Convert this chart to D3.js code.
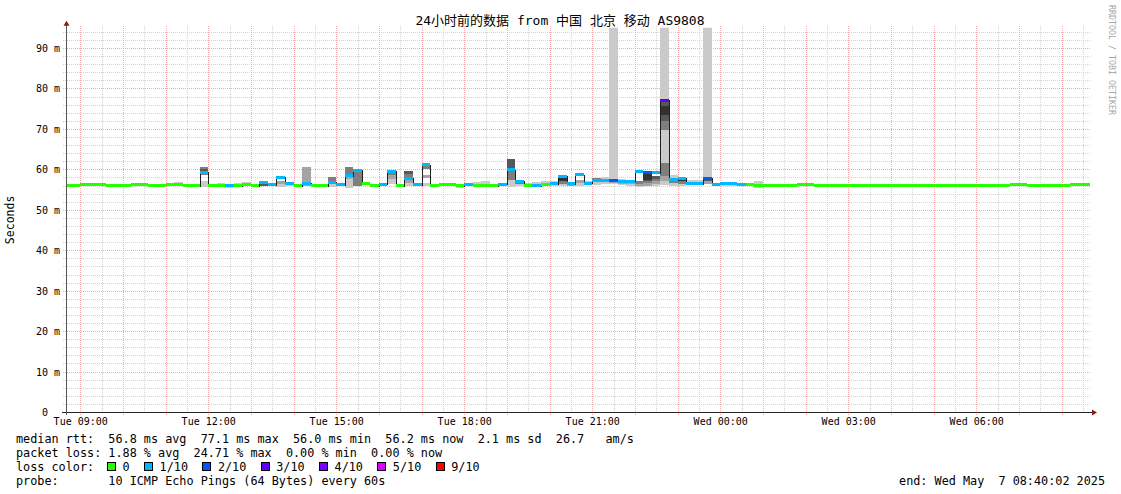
<!DOCTYPE html>
<html><head><meta charset="utf-8">
<script src="https://cdn.jsdelivr.net/npm/d3@7"></script>
<style>
html,body{margin:0;padding:0;background:#fff;}
svg{display:block;}
text{font-family:"DejaVu Sans Mono","Noto Sans CJK SC",monospace;white-space:pre;fill:#000;}
</style></head><body>
<svg id="c" width="1121" height="494"></svg>
<script>
// ---------------- data ----------------
const title = "24小时前的数据 from 中国 北京 移动 AS9808";
const yAxisTitle = "Seconds";
const watermark = "RRDTOOL / TOBI OETIKER";
const startTime = new Date(2025, 4, 6, 8, 40, 2);
const endTime = new Date(2025, 4, 7, 8, 40, 2);
const binStart = new Date(2025, 4, 6, 8, 36, 0);
const binMinutes = 12;

// median RTT per 12-minute bin (ms)
const median = [
  56.1,56.1,56.2,56.3,56.2,56.1,56.1,56.1,56.2,56.2,56.1,56.1,56.2,
  56.2,56.0,56.0,59.3,56.0,56.1,56.0,56.0,
  56.3,56.0,56.7,56.2,58.1,56.5,56.0,56.6,56.1,56.0,
  56.8,56.2,58.4,59.8,56.4,56.0,56.3,59.5,56.0,57.8,
  56.2,61.2,56.1,56.3,56.2,56.0,56.3,56.0,56.0,56.0,
  56.3,59.9,57.0,56.0,56.0,56.3,56.4,58.3,56.4,58.7,
  56.6,57.2,57.3,57.3,57.0,57.1,59.4,59.1,59.2,77.1,
  57.4,57.8,56.5,56.5,57.8,56.3,56.5,56.6,56.3,56.2,
  56.0,56.1,56.1,56.0,56.1,56.2,56.2,56.1,56.1,56.0,
  56.0,56.1,56.1,56.0,56.0,56.1,56.0,56.1,56.1,56.0,
  56.0,56.1,56.0,56.1,56.1,56.0,56.0,56.0,56.1,56.1,
  56.2,56.2,56.1,56.1,56.0,56.1,56.1,56.2,56.2,56.2
];
// loss per bin (pings out of 10)
const loss = [
  0,0,0,0,0,0,0,0,0,0,0,0,0,
  0,0,0,1,0,0,1,0,
  0,0,1,1,1,1,0,1,0,0,
  1,1,1,1,0,0,1,1,0,1,
  1,1,0,0,0,0,1,0,0,0,
  1,1,1,0,1,0,1,1,1,1,
  1,1,1,2,1,1,1,2,1,3,
  1,1,1,1,2,1,1,1,1,0,
  0,0,0,0,0,0,0,0,0,0,
  0,0,0,0,0,0,0,0,0,0,
  0,0,0,0,0,0,0,0,0,0,
  0,0,0,0,0,0,0,0,0,0
];
// smoke bands: [bin, low ms, high ms, shade level 1..5]
const smoke = [
  [13,55.9,56.8,1],[14,56.0,56.5,1],
  [16,55.7,57.0,1],[16,58.6,59.3,3],[16,59.3,60.0,4],[16,60.0,60.6,3],
  [17,56.0,56.5,1],[18,56.0,56.6,1],[19,55.4,56.5,1],[20,55.8,56.6,1],[21,56.0,56.8,1],
  [23,55.8,57.0,1],[23,56.0,56.6,4],[24,55.8,56.4,1],
  [25,55.7,56.4,1],[25,56.4,57.0,2],[26,55.8,56.7,1],[28,56.0,60.6,2],
  [31,55.7,57.0,1],[31,57.0,58.2,3],[32,55.8,56.4,1],
  [33,55.5,57.5,1],[33,57.5,58.6,2],[33,58.6,60.6,3],[34,56.0,60.1,3],
  [37,55.9,56.5,1],
  [38,56.5,57.6,1],[38,57.6,58.6,2],[38,58.6,59.3,3],
  [40,56.0,56.6,1],[40,56.6,57.6,2],[40,57.6,58.8,3],[40,58.8,59.6,4],
  [42,55.8,56.6,1],[42,57.9,58.6,2],[42,60.0,60.8,3],
  [44,55.9,56.7,1],[45,55.8,56.5,1],[46,55.4,56.5,1],[47,55.8,56.6,1],
  [48,55.9,56.8,1],[49,56.0,57.1,1],[51,55.9,56.6,1],
  [52,55.7,57.4,1],[52,57.4,59.6,3],[52,60.3,62.6,4],
  [53,55.9,56.3,1],[53,56.3,56.9,3],[54,56.0,56.6,1],[55,56.0,56.9,1],
  [56,56.0,57.1,1],[57,56.0,57.1,1],
  [58,55.9,56.4,1],[58,56.4,57.0,3],[58,57.0,58.0,5],
  [59,55.8,56.3,2],[60,55.9,56.6,1],[60,56.6,57.4,2],[61,56.2,57.2,1],
  [62,56.2,57.0,1],[62,57.4,57.8,3],[63,56.3,58.2,1],
  [64,56.5,120,1],[64,56.6,57.2,2],
  [65,56.1,57.6,1],[65,56.3,56.8,2],[66,56.0,57.2,1],[66,56.3,56.9,2],
  [67,55.6,56.0,1],[67,56.0,56.5,2],[67,56.5,57.2,3],
  [68,56.0,56.6,2],[68,56.6,57.0,3],[68,57.0,57.4,4],[68,57.4,58.8,5],
  [69,56.0,56.3,1],[69,56.3,57.0,2],[69,57.0,57.6,3],[69,57.6,58.3,4],
  [70,56.2,57.0,1],[70,57.0,58.3,2],[70,58.3,61.6,3],[70,61.6,69.8,1],
  [70,69.8,71.9,3],[70,71.9,73.5,4],[70,73.5,75.7,5],[70,75.7,76.7,4],[70,77.5,120,1],
  [71,56.0,56.6,1],[71,56.6,57.0,3],[71,57.6,58.6,1],
  [72,56.0,56.5,1],[72,56.5,57.0,3],[72,57.0,57.5,5],
  [73,56.5,57.3,1],[74,56.5,57.3,1],
  [75,56.3,57.0,2],[75,57.0,57.5,4],[75,58.2,120,1],
  [76,55.9,56.4,1],[77,56.0,56.6,1],[78,56.0,56.5,1],[79,56.0,56.5,1],[81,55.5,57.0,1]
];
const smokeShades = ["#cacaca","#a4a4a4","#7e7e7e","#585858","#323232"];

const lossLevels = [0,1,2,3,4,5,9];
const lossLabels = ["0","1/10","2/10","3/10","4/10","5/10","9/10"];
const lossColors = ["#26ff00","#00b8ff","#0059ff","#5e00ff","#7e00ff","#dd00ff","#ff0000"];

const yTicks = [0,10,20,30,40,50,60,70,80,90];
const yTickLabels = ["0  ","10 m","20 m","30 m","40 m","50 m","60 m","70 m","80 m","90 m"];
const xTicks = [
  new Date(2025,4,6,9), new Date(2025,4,6,12), new Date(2025,4,6,15), new Date(2025,4,6,18),
  new Date(2025,4,6,21), new Date(2025,4,7,0), new Date(2025,4,7,3), new Date(2025,4,7,6)
];
const xTickLabels = ["Tue 09:00","Tue 12:00","Tue 15:00","Tue 18:00","Tue 21:00","Wed 00:00","Wed 03:00","Wed 06:00"];

const legendRtt = "median rtt:  56.8 ms avg  77.1 ms max  56.0 ms min  56.2 ms now  2.1 ms sd  26.7   am/s";
const legendLoss = "packet loss: 1.88 % avg  24.71 % max  0.00 % min  0.00 % now";
const legendLossTitle = "loss color:";
const legendProbe = "probe:       10 ICMP Echo Pings (64 Bytes) every 60s";
const legendEnd = "end: Wed May  7 08:40:02 2025";

// ---------------- drawing ----------------
const svg = d3.select("#c");
const L = 66, R = 1090, B = 412;
const x = d3.scaleTime().domain([startTime, endTime]).range([L, R]);
const y = d3.scaleLinear().domain([0, 95]).range([B, B - 95 * 4.044]);
const T = y(95);
const cx = v => Math.round(v) + 0.5;

// grid
const gGrid = svg.append("g").attr("shape-rendering", "crispEdges");
const minorH = d3.range(2, 95, 2).filter(v => v % 10 !== 0);
const majorH = d3.range(10, 95, 10);
const minorCol = "#d2d2d2", majorCol = "#f4a9a9";
gGrid.selectAll(".mh").data(minorH).join("line")
  .attr("x1", L - 3).attr("x2", R).attr("y1", d => cx(y(d))).attr("y2", d => cx(y(d)))
  .attr("stroke", minorCol).attr("stroke-dasharray", "1,1");
const halfHours = d3.timeMinute.every(30).range(startTime, endTime).filter(d => d.getMinutes() === 30);
const hours = d3.timeHour.every(1).range(startTime, endTime);
gGrid.selectAll(".mv").data(halfHours).join("line")
  .attr("x1", d => cx(x(d))).attr("x2", d => cx(x(d))).attr("y1", T - 2).attr("y2", B + 2)
  .attr("stroke", minorCol).attr("stroke-dasharray", "1,1");
gGrid.selectAll(".Mh").data(majorH).join("line")
  .attr("x1", L - 3).attr("x2", R).attr("y1", d => cx(y(d))).attr("y2", d => cx(y(d)))
  .attr("stroke", majorCol).attr("stroke-dasharray", "1,1");
gGrid.selectAll(".Mv").data(hours).join("line")
  .attr("x1", d => cx(x(d))).attr("x2", d => cx(x(d))).attr("y1", T - 2).attr("y2", B + 3)
  .attr("stroke", majorCol).attr("stroke-dasharray", "1,1");

// clip
svg.append("clipPath").attr("id", "plot").append("rect")
  .attr("x", L).attr("y", T).attr("width", R - L).attr("height", B - T);
const gData = svg.append("g").attr("clip-path", "url(#plot)").attr("shape-rendering", "crispEdges");

const binT0 = j => d3.timeMinute.offset(binStart, j * binMinutes);
const binX0 = j => Math.round(x(binT0(j)));
const binX1 = j => Math.round(x(binT0(j + 1)));

// smoke
gData.selectAll(".smoke").data(smoke).join("rect")
  .attr("x", d => binX0(d[0])).attr("width", d => binX1(d[0]) - binX0(d[0]))
  .attr("y", d => Math.round(y(d[2]))).attr("height", d => Math.max(1, Math.round(y(d[1])) - Math.round(y(d[2]))))
  .attr("fill", d => smokeShades[d[3] - 1]);

// median step line
const pts = median.map((m, j) => [binX0(j), m]);
pts.push([binX1(median.length - 1), median[median.length - 1]]);
gData.append("path")
  .attr("d", d3.line().x(d => d[0] + 0.5).y(d => cx(y(d[1]))).curve(d3.curveStepAfter)(pts))
  .attr("fill", "none").attr("stroke", "#202020").attr("stroke-width", 1);

// median coloured band
const colorFor = l => lossColors[Math.max(0, lossLevels.findIndex(v => v >= l))];
gData.selectAll(".med").data(median.map((m, j) => ({ j, m, l: loss[j] }))).join("rect")
  .attr("x", d => binX0(d.j)).attr("width", d => binX1(d.j) - binX0(d.j))
  .attr("y", d => Math.round(y(d.m) - 1.5)).attr("height", 3)
  .attr("fill", d => colorFor(d.l));

// axes lines
const gAx = svg.append("g").attr("shape-rendering", "crispEdges");
gAx.append("line").attr("x1", L - 4).attr("x2", R + 2).attr("y1", B + 0.5).attr("y2", B + 0.5).attr("stroke", "#222");
gAx.append("line").attr("x1", L + 0.5).attr("x2", L + 0.5).attr("y1", B + 3).attr("y2", T - 3).attr("stroke", "#555");
svg.append("path").attr("d", `M${R + 7},${B + 0.5} L${R + 2},${B - 2.5} L${R + 2},${B + 3.5} Z`).attr("fill", "#8a1c1c");
svg.append("path").attr("d", `M${L + 0.5},${T - 7} L${L - 2.5},${T - 2} L${L + 3.5},${T - 2} Z`).attr("fill", "#8a1c1c");

// x axis labels
const xAxis = d3.axisBottom(x).tickValues(xTicks).tickFormat((d, i) => xTickLabels[i]).tickSize(0).tickPadding(0);
const gx = svg.append("g").attr("transform", `translate(0,${B + 13})`).call(xAxis);
gx.select(".domain").remove();
gx.selectAll("text").attr("dy", 0).attr("y", 0).style("font-size", "10px").style("font-family", "DejaVu Sans Mono");

// y axis labels
const yAxis = d3.axisLeft(y).tickValues(yTicks).tickFormat((d, i) => yTickLabels[i]).tickSize(0).tickPadding(0);
const gy = svg.append("g").attr("transform", `translate(${L - 6},0)`).call(yAxis);
gy.select(".domain").remove();
gy.selectAll("text").attr("dy", "0.35em").style("font-size", "10px").style("font-family", "DejaVu Sans Mono");

// title
svg.append("text").attr("x", 560).attr("y", 25).attr("text-anchor", "middle")
  .style("font-size", "13px").text(title);
// y title
svg.append("text").attr("transform", `translate(14,${(B + T) / 2}) rotate(-90)`).attr("text-anchor", "middle")
  .style("font-size", "11.5px").text(yAxisTitle);
// watermark
svg.append("text").attr("transform", `translate(1108.5,5) rotate(90)`)
  .style("font-size", "8.3px").style("fill", "#a8a8a8").text(watermark);

// legend
const fs = "11.8px";
const rows = [442.5, 456.5, 470.5, 484.5];
svg.append("text").attr("x", 16).attr("y", rows[0]).style("font-size", fs).text(legendRtt);
svg.append("text").attr("x", 16).attr("y", rows[1]).style("font-size", fs).text(legendLoss);
svg.append("text").attr("x", 16).attr("y", rows[2]).style("font-size", fs).text(legendLossTitle);
svg.append("text").attr("x", 16).attr("y", rows[3]).style("font-size", fs).text(legendProbe);
svg.append("text").attr("x", 1105).attr("y", rows[3]).attr("text-anchor", "end").style("font-size", fs).text(legendEnd);

let lx = 107;
lossLabels.forEach((lab, i) => {
  svg.append("rect").attr("x", lx + 0.5).attr("y", rows[2] - 8.5).attr("width", 8).attr("height", 8)
    .attr("fill", lossColors[i]).attr("stroke", "#000").attr("stroke-width", 1).attr("shape-rendering", "crispEdges");
  svg.append("text").attr("x", lx + 15.5).attr("y", rows[2]).style("font-size", fs).text(lab);
  lx = lx + 15.5 + lab.length * 7.08 + 14.5;
});
</script>
</body></html>
